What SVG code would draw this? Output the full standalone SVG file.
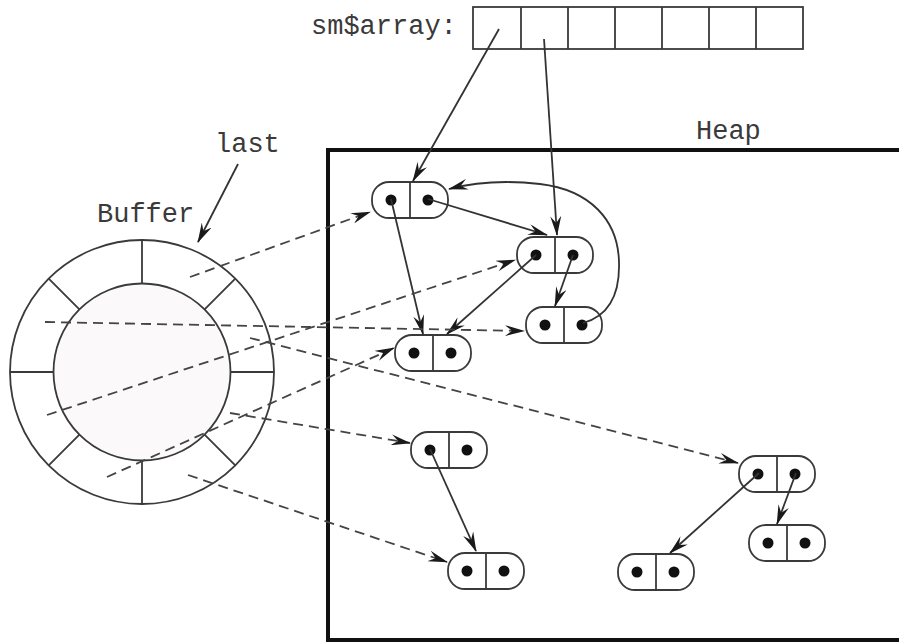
<svg xmlns="http://www.w3.org/2000/svg" xmlns:xlink="http://www.w3.org/1999/xlink" width="899" height="644" viewBox="0 0 899 644">
  <style>
    .lbl { font-family: "Liberation Mono", "DejaVu Sans Mono", monospace; font-size: 27px; fill: #3a3a3a; }
    .edge { fill: none; stroke: #333; stroke-width: 1.8; marker-end: url(#arr); }
    .ptr { fill: none; stroke: #444; stroke-width: 1.8; stroke-dasharray: 10 6; marker-end: url(#arr); }
    .ring { fill: none; stroke: #3a3a3a; stroke-width: 1.8; }
    .cell { fill: #fff; stroke: #3a3a3a; stroke-width: 1.8; }
  </style>
  <defs>
    <marker id="arr" viewBox="0 0 20 11" markerWidth="20" markerHeight="11" refX="19" refY="5.5" orient="auto" markerUnits="userSpaceOnUse">
      <path d="M0,0 L20,5.5 L0,11 L7,5.5 z" fill="#1a1a1a"/>
    </marker>
    <!-- a cons cell: rounded box, divider, two pointer dots -->
    <g id="cons">
      <rect x="-38" y="-18" width="76" height="36" rx="17" fill="#fff" stroke="#3a3a3a" stroke-width="1.8"/>
      <line x1="0" y1="-18" x2="0" y2="18" stroke="#3a3a3a" stroke-width="1.8"/>
      <circle cx="-19" cy="0" r="5.5" fill="#111"/>
      <circle cx="18" cy="0" r="5.5" fill="#111"/>
    </g>
  </defs>

  <rect width="899" height="644" fill="#fff"/>

  <!-- array of stable-memory roots -->
  <g id="smarray">
    <text class="lbl" x="311" y="34">sm$array:</text>
    <rect class="cell" x="473" y="7" width="330" height="42"/>
    <path d="M521,7V49 M568,7V49 M615,7V49 M662,7V49 M709,7V49 M756,7V49" stroke="#3a3a3a" stroke-width="1.8"/>
  </g>

  <!-- heap region -->
  <g id="heap">
    <rect x="328" y="150" width="600" height="490" fill="none" stroke="#111" stroke-width="4"/>
    <text class="lbl" x="696" y="139">Heap</text>
  </g>

  <!-- circular buffer -->
  <g id="buffer">
    <circle class="ring" cx="142" cy="372" r="132" fill="#fff"/>
    <circle cx="142" cy="372" r="88.5" fill="#fbf9f9" stroke="#3a3a3a" stroke-width="1.8"/>
    <path class="ring" d="M230.5,372H274 M53.5,372H10 M142,283.5V240 M142,460.5V504
      M204.6,309.4L235.3,278.7 M79.4,309.4L48.7,278.7 M204.6,434.6L235.3,465.3 M79.4,434.6L48.7,465.3"/>
    <text class="lbl" x="97" y="222">Buffer</text>
    <text class="lbl" x="215" y="152">last</text>
  </g>

  <!-- heap cells -->
  <g id="n1"><use xlink:href="#cons" transform="translate(410,200)"/></g>
  <g id="n2"><use xlink:href="#cons" transform="translate(555,255)"/></g>
  <g id="n3"><use xlink:href="#cons" transform="translate(564,325)"/></g>
  <g id="n4"><use xlink:href="#cons" transform="translate(433,353)"/></g>
  <g id="n5"><use xlink:href="#cons" transform="translate(449,450)"/></g>
  <g id="n6"><use xlink:href="#cons" transform="translate(486,571)"/></g>
  <g id="n7"><use xlink:href="#cons" transform="translate(777,474)"/></g>
  <g id="n8"><use xlink:href="#cons" transform="translate(787,543)"/></g>
  <g id="n9"><use xlink:href="#cons" transform="translate(656,572)"/></g>

  <g id="connectors">
    <!-- last pointer -->
    <path class="edge" d="M238,164 L198,242"/>
    <!-- roots from sm$array -->
    <path class="edge" d="M499,29 L413,181"/>
    <path class="edge" d="M544,39 L557,235"/>
    <!-- heap pointers -->
    <path class="edge" d="M428,199 L547,235"/>
    <path class="edge" d="M391,199 L423,334"/>
    <path class="edge" d="M536,255 L447,334"/>
    <path class="edge" d="M573,255 L555,306"/>
    <path class="edge" d="M583,323 C608,316 620,295 619,262 C618,220 590,190 540,184 C505,180 472,183 449,189"/>
    <path class="edge" d="M430,449 L476,551"/>
    <path class="edge" d="M759,473 L670,553"/>
    <path class="edge" d="M796,473 L777,524"/>
    <!-- buffer entries into the heap -->
    <path class="ptr" d="M190,277 L370,212"/>
    <path class="ptr" d="M45,322 L524,331"/>
    <path class="ptr" d="M47,415 L515,260"/>
    <path class="ptr" d="M250,338 L738,463"/>
    <path class="ptr" d="M107,477 L394,348"/>
    <path class="ptr" d="M230,413 L410,443"/>
    <path class="ptr" d="M188,475 L447,562"/>
  </g>
</svg>
